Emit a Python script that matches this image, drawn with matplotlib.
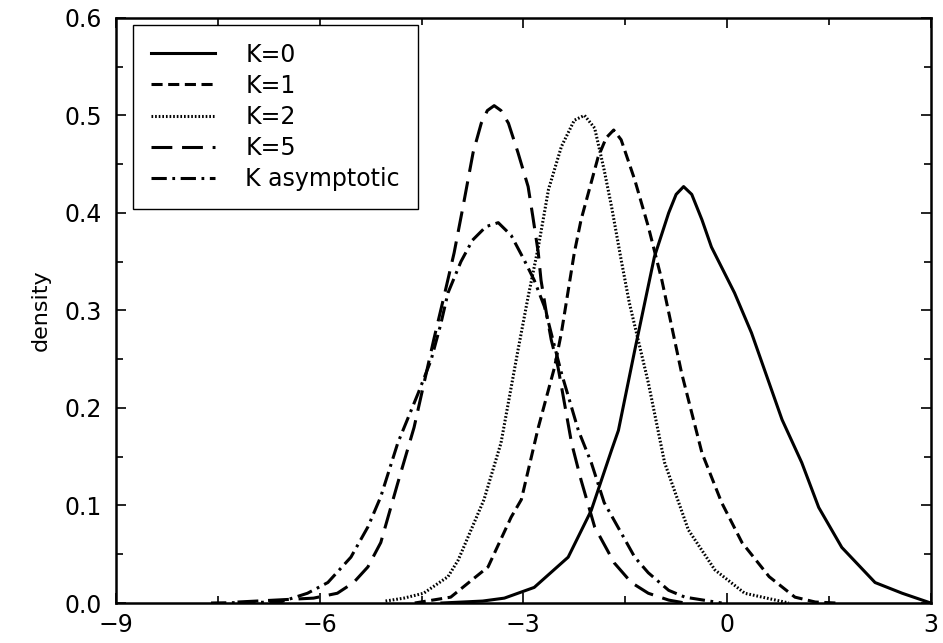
import matplotlib
matplotlib.use("Agg")
import matplotlib.pyplot as plt
from matplotlib.ticker import MultipleLocator

plt.rcParams['font.family'] = ['DejaVu Sans']
plt.rcParams['lines.scale_dashes'] = False

# values
k0_x = [-4.2, -3.6, -3.28, -2.84, -2.34, -2.0, -1.7, -1.6, -1.36, -1.07, -0.86, -0.75, -0.64,
        -0.52, -0.37, -0.23, 0.11, 0.36, 0.81, 1.10, 1.35, 1.69, 2.18, 2.58, 3.0]
k0_y = [0.0, 0.002, 0.005, 0.016, 0.047, 0.095, 0.157, 0.177, 0.259, 0.355, 0.40, 0.419, 0.427,
        0.419, 0.393, 0.365, 0.318, 0.277, 0.188, 0.144, 0.098, 0.057, 0.021, 0.010, 0.0]

k1_x = [-4.6, -4.07, -3.52, -3.18, -3.03, -2.78, -2.54, -2.44, -2.25, -2.15, -1.90, -1.78, -1.67,
        -1.56, -1.36, -1.16, -0.96, -0.67, -0.37, -0.08, 0.22, 0.62, 1.0, 1.3, 1.6]
k1_y = [0.0, 0.006, 0.037, 0.088, 0.106, 0.18, 0.242, 0.277, 0.359, 0.393, 0.457, 0.477, 0.485,
        0.475, 0.434, 0.386, 0.331, 0.236, 0.154, 0.103, 0.062, 0.027, 0.006, 0.001, 0.0]

k2_x = [-5.03, -4.76, -4.47, -4.11, -3.96, -3.58, -3.33, -3.08, -2.93, -2.78, -2.63, -2.44,
        -2.25, -2.10, -1.95, -1.81, -1.70, -1.56, -1.44, -1.16, -0.92, -0.57, -0.18, 0.26, 0.91]
k2_y = [0.002, 0.005, 0.010, 0.027, 0.044, 0.106, 0.164, 0.259, 0.314, 0.365, 0.424, 0.468,
        0.495, 0.50, 0.487, 0.444, 0.406, 0.352, 0.308, 0.226, 0.144, 0.075, 0.034, 0.010, 0.0]

k5_x = [-7.21, -6.09, -5.74, -5.50, -5.29, -5.10, -4.85, -4.61, -4.41, -4.32, -4.17, -4.02,
        -3.89, -3.74, -3.62, -3.53, -3.43, -3.33, -3.22, -3.08, -2.93, -2.86, -2.78, -2.74,
        -2.66, -2.59, -2.49, -2.29, -2.15, -1.95, -1.66, -1.41, -1.16, -0.86, -0.62]
k5_y = [0.001, 0.005, 0.010, 0.021, 0.037, 0.062, 0.123, 0.18, 0.242, 0.27, 0.314, 0.359,
        0.406, 0.462, 0.492, 0.505, 0.51, 0.505, 0.492, 0.462, 0.427, 0.396, 0.359, 0.331,
        0.297, 0.27, 0.242, 0.164, 0.126, 0.078, 0.041, 0.021, 0.010, 0.003, 0.0]

ka_x = [-7.6, -6.58, -6.18, -5.88, -5.54, -5.29, -5.10, -4.85, -4.55, -4.36, -4.22, -4.11,
        -3.92, -3.75, -3.55, -3.37, -3.18, -2.99, -2.84, -2.69, -2.54, -2.44, -2.19, -2.0,
        -1.81, -1.56, -1.36, -1.16, -0.86, -0.62, -0.08]
ka_y = [0.0, 0.001, 0.010, 0.021, 0.047, 0.078, 0.109, 0.164, 0.215, 0.249, 0.285, 0.318,
        0.350, 0.372, 0.386, 0.39, 0.377, 0.352, 0.331, 0.304, 0.263, 0.236, 0.177, 0.144,
        0.103, 0.072, 0.047, 0.031, 0.013, 0.006, 0.0]

labels = ['K=0', 'K=1', 'K=2', 'K=5', 'K asymptotic']

fig = plt.figure(figsize=(9.43, 6.43), dpi=100)
ax = fig.add_axes([0.123, 0.0622, 0.864, 0.91])

lw = 2.2
ax.plot(k0_x, k0_y, color='black', lw=lw, linestyle='-', label=labels[0])
ax.plot(k1_x, k1_y, color='black', lw=lw, linestyle=(0, (8, 4)), label=labels[1])
ax.plot(k2_x, k2_y, color='black', lw=lw, linestyle=(0, (1.2, 1.4)), label=labels[2])
ax.plot(k5_x, k5_y, color='black', lw=lw, linestyle=(0, (15, 7)), label=labels[3])
ax.plot(ka_x, ka_y, color='black', lw=lw, linestyle=(0, (11, 4, 2, 4)), label=labels[4])

ax.set_xlim(-9, 3)
ax.set_ylim(0, 0.6)
ax.xaxis.set_minor_locator(MultipleLocator(1.5))
ax.yaxis.set_minor_locator(MultipleLocator(0.05))
ax.set_xticks([-9, -6, -3, 0, 3])
ax.set_xticklabels(['\u22129', '\u22126', '\u22123', '0', '3'])
ax.set_yticks([0.0, 0.1, 0.2, 0.3, 0.4, 0.5, 0.6])
ax.set_yticklabels(['0.0', '0.1', '0.2', '0.3', '0.4', '0.5', '0.6'])
ax.tick_params(which='both', direction='in', top=True, right=True, labelsize=17, width=1.2)
ax.tick_params(which='major', length=7)
ax.tick_params(which='minor', length=5)
ax.tick_params(axis='y', pad=10)
ax.tick_params(axis='x', pad=7)
for s in ax.spines.values():
    s.set_linewidth(1.8)

ax.set_ylabel('density', fontsize=16, labelpad=10)

leg = ax.legend(loc='upper left', bbox_to_anchor=(0.021, 0.988), borderaxespad=0,
                fontsize=17, handlelength=2.7, handletextpad=1.3, labelspacing=0.3,
                fancybox=False, framealpha=1, edgecolor='black', borderpad=0.75)
leg.get_frame().set_linewidth(1.0)

fig.savefig('out.png', dpi=100)
